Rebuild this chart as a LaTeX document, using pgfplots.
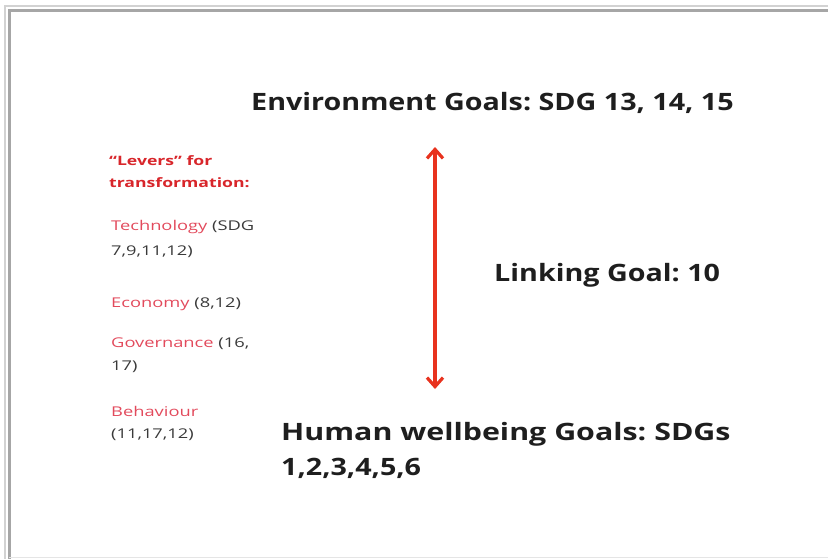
\documentclass[border=0pt]{standalone}
\usepackage{pgfplots}
\pgfplotsset{compat=1.18}
\usepackage{fontspec}
\setmainfont{Open Sans}
\newfontfamily\titlefont[FakeStretch=1.2]{Open Sans}
\newfontfamily\widetitlefont[FakeStretch=1.27]{Open Sans}
\newfontfamily\leverfont[FakeStretch=1.36]{Open Sans}
\usetikzlibrary{arrows.meta}
\definecolor{levred}{HTML}{D8262B}
\definecolor{pinkred}{HTML}{E24A5C}
\definecolor{txt}{HTML}{1E1E1E}
\definecolor{txtl}{HTML}{3A3A3A}
\definecolor{arrowred}{HTML}{E8321E}
\frenchspacing
\begin{document}
\begin{tikzpicture}
\begin{axis}[
  hide axis, scale only axis,
  width=828bp, height=559bp,
  xmin=0, xmax=828, ymin=0, ymax=559, y dir=reverse,
  clip=true,
]
\coordinate (TL) at (axis cs:0,0);
\coordinate (BR) at (axis cs:828,559);
% frame
\draw[gray!35, line width=1.5bp] (axis cs:5,559) -- (axis cs:5,6) -- (axis cs:828,6);
\draw[gray!70, line width=3bp] (axis cs:9.5,559) -- (axis cs:9.5,11) -- (axis cs:828,11);
\draw[gray!20, line width=1bp] (axis cs:9,557) -- (axis cs:828,557);
% arrow
\addplot[arrowred, line width=3.2bp, {Straight Barb[length=9bp,width=16bp]}-{Straight Barb[length=9bp,width=16bp]}] coordinates {(435,147) (435,389)};
% titles
\tikzset{big/.style={anchor=base west, font=\titlefont\fontsize{24}{28}\selectfont\bfseries, text=txt, inner sep=0}}
\node[big] at (axis cs:251,110) {Environment Goals: SDG 13, 14, 15};
\node[big] at (axis cs:494,281) {Linking Goal: 10};
\node[big, font=\widetitlefont\fontsize{24}{28}\selectfont\bfseries] at (axis cs:281,440) {Human wellbeing Goals: SDGs};
\node[big] at (axis cs:281,475) {1,2,3,4,5,6};
% levers
\tikzset{lev/.style={anchor=base west, font=\leverfont\fontsize{13.5}{16}\selectfont, text=txtl, inner sep=0}}
\node[lev, font=\leverfont\fontsize{13}{16}\selectfont\bfseries, text=levred] at (axis cs:109,165) {“Levers” for};
\node[lev, font=\leverfont\fontsize{13}{16}\selectfont\bfseries, text=levred] at (axis cs:109,187) {transformation:};
\node[lev] at (axis cs:111,230) {\textcolor{pinkred}{Technology} (SDG};
\node[lev] at (axis cs:111,255) {7,9,11,12)};
\node[lev] at (axis cs:111,307) {\textcolor{pinkred}{Economy} (8,12)};
\node[lev] at (axis cs:111,347) {\textcolor{pinkred}{Governance} (16,};
\node[lev] at (axis cs:111,370) {17)};
\node[lev] at (axis cs:111,416) {\textcolor{pinkred}{Behaviour}};
\node[lev] at (axis cs:111,438) {(11,17,12)};
\end{axis}
\pgfresetboundingbox
\path[use as bounding box] (TL) rectangle (BR);
\end{tikzpicture}
\end{document}
